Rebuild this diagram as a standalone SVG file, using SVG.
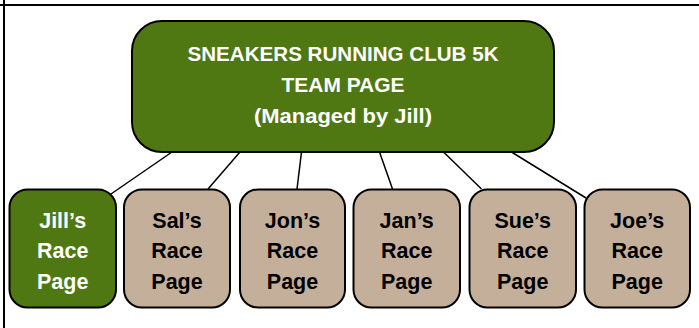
<svg xmlns="http://www.w3.org/2000/svg" width="699" height="328" viewBox="0 0 699 328">
<style>
.frame{stroke:#000;stroke-width:2;fill:none}
.green{fill:#4f7813;stroke:#000;stroke-width:2}
.tan{fill:#c4b09a;stroke:#000;stroke-width:2}
.conn line{stroke:#000;stroke-width:1.5}
text{font-family:"Liberation Sans",Arial,sans-serif;font-weight:bold;text-anchor:middle}
.top{font-size:21px;fill:#fff}
.w{font-size:21.5px;fill:#fff}
.b{font-size:21.5px;fill:#000}
</style>
<rect x="0" y="0" width="699" height="328" fill="#fff"/>
<line class="frame" x1="0" y1="5" x2="699" y2="5"/>
<line class="frame" x1="4" y1="0" x2="4" y2="328"/>
<g id="connectors" class="conn">
<line x1="172" y1="152" x2="111" y2="194"/>
<line x1="240" y1="152" x2="208" y2="189"/>
<line x1="301.5" y1="152" x2="297" y2="189"/>
<line x1="379.5" y1="152" x2="392.5" y2="189"/>
<line x1="443.5" y1="152" x2="481.5" y2="189"/>
<line x1="511.5" y1="152" x2="586" y2="198"/>
</g>
<g id="team">
<rect class="green" x="132" y="21" width="422" height="131" rx="30" ry="30"/>
<text class="top" x="343" y="61" textLength="311" lengthAdjust="spacingAndGlyphs">SNEAKERS RUNNING CLUB 5K</text>
<text class="top" x="343" y="92" textLength="123" lengthAdjust="spacingAndGlyphs">TEAM PAGE</text>
<text class="top" x="343" y="123" textLength="178" lengthAdjust="spacingAndGlyphs">(Managed by Jill)</text>
</g>
<g id="jill">
<rect class="green" x="9.5" y="189.5" width="106.5" height="118" rx="18" ry="18"/>
<text class="w" x="62.7" y="227.5">Jill’s</text>
<text class="w" x="62.7" y="258.3">Race</text>
<text class="w" x="62.7" y="288.5">Page</text>
</g>
<g id="sal">
<rect class="tan" x="124" y="189.5" width="106" height="118" rx="18" ry="18"/>
<text class="b" x="177" y="227.5">Sal’s</text>
<text class="b" x="177" y="258.3">Race</text>
<text class="b" x="177" y="288.5">Page</text>
</g>
<g id="jon">
<rect class="tan" x="240" y="189.5" width="105" height="118" rx="18" ry="18"/>
<text class="b" x="292.5" y="227.5">Jon’s</text>
<text class="b" x="292.5" y="258.3">Race</text>
<text class="b" x="292.5" y="288.5">Page</text>
</g>
<g id="jan">
<rect class="tan" x="353.5" y="189.5" width="106.5" height="118" rx="18" ry="18"/>
<text class="b" x="406.7" y="227.5">Jan’s</text>
<text class="b" x="406.7" y="258.3">Race</text>
<text class="b" x="406.7" y="288.5">Page</text>
</g>
<g id="sue">
<rect class="tan" x="469.5" y="189.5" width="106.5" height="118" rx="18" ry="18"/>
<text class="b" x="522.7" y="227.5">Sue’s</text>
<text class="b" x="522.7" y="258.3">Race</text>
<text class="b" x="522.7" y="288.5">Page</text>
</g>
<g id="joe">
<rect class="tan" x="584.5" y="189.5" width="105.5" height="118" rx="18" ry="18"/>
<text class="b" x="637.2" y="227.5">Joe’s</text>
<text class="b" x="637.2" y="258.3">Race</text>
<text class="b" x="637.2" y="288.5">Page</text>
</g>
</svg>
